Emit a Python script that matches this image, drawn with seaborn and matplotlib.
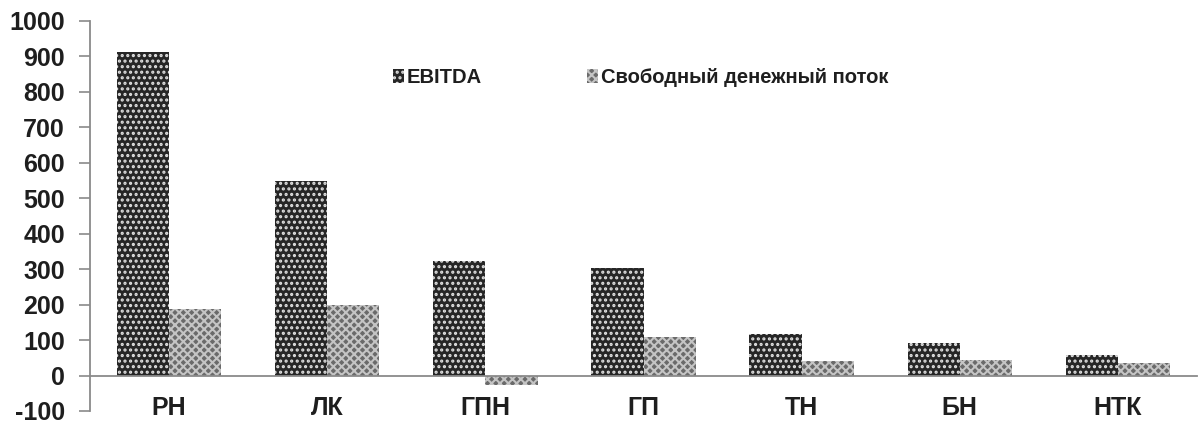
import matplotlib
matplotlib.use("Agg")
import matplotlib.pyplot as plt
import seaborn as sns
import pandas as pd
import numpy as np
from matplotlib.patches import Patch

categories = ["РН", "ЛК", "ГПН", "ГП", "ТН", "БН", "НТК"]
ebitda = [913, 548, 322, 303, 116, 92, 59]
fcf = [189, 200, -28, 108, 40, 44, 36]
series_names = ["EBITDA", "Свободный денежный поток"]
yticks = list(range(-100, 1001, 100))

df = pd.DataFrame({
    "cat": categories * 2,
    "val": ebitda + fcf,
    "series": [series_names[0]] * len(categories) + [series_names[1]] * len(categories),
})

sns.set_theme(style="white")
plt.rcParams["font.family"] = ["Liberation Sans", "DejaVu Sans"]
plt.rcParams["font.weight"] = "bold"
plt.rcParams["hatch.linewidth"] = 1.5

fig = plt.figure(figsize=(11.98, 4.25), dpi=100)
ax = fig.add_axes([90 / 1198, (425 - 411) / 425, (1197 - 90) / 1198, (411 - 21) / 425])

sns.barplot(data=df, x="cat", y="val", hue="series", order=categories,
            hue_order=series_names, palette=["#2e2e2e", "#8c8c8c"],
            width=0.66, dodge=True, ax=ax, legend=False, saturation=1)

styles = [("#262626", "#e0e0e0", "..."), ("#6a6a6a", "#c4c4c4", "xxxx")]
n = len(categories)
for i, p in enumerate(ax.patches[:2 * n]):
    fc, hc, h = styles[i // n]
    p.set_facecolor(fc)
    p.set_edgecolor(hc)
    p.set_hatch(h)
    p.set_linewidth(0)

ax.set_xlim(-0.5, n - 0.5)
ax.set_ylim(-100, 1000)
ax.set_yticks(yticks)
ax.set_yticklabels([str(v) for v in yticks])
ax.set_xticks(range(n))
ax.set_xticklabels(categories)
ax.set_xticks(np.arange(-0.5, n, 1.0), minor=True)
ax.tick_params(axis="x", which="major", length=0, pad=15, labelsize=18, labelcolor="#1e1e1e")
ax.tick_params(axis="x", which="minor", length=8, direction="inout", color="#8a8a8a", width=1.2)
ax.tick_params(axis="y", length=8, direction="out", color="#8a8a8a", width=1.2, pad=10, left=True,
               labelsize=18, labelcolor="#1e1e1e")
ax.set_xlabel("")
ax.set_ylabel("")

for s in ["top", "right"]:
    ax.spines[s].set_visible(False)
ax.spines["bottom"].set_position(("data", 0))
ax.spines["bottom"].set_color("#8a8a8a")
ax.spines["bottom"].set_linewidth(1.3)
ax.spines["left"].set_color("#8a8a8a")
ax.spines["left"].set_linewidth(1.3)

handles = [Patch(facecolor=styles[k][0], edgecolor=styles[k][1], hatch=styles[k][2], linewidth=0)
           for k in range(2)]
leg = ax.legend(handles, series_names, loc="center left", bbox_to_anchor=(0.257, 0.855),
                ncol=2, frameon=False, handlelength=0.55, handleheight=0.75, handletextpad=0.15,
                columnspacing=5.2, prop={"size": 14.5, "weight": "bold"})
for t in leg.get_texts():
    t.set_color("#1e1e1e")

fig.savefig("out.png", dpi=100)
